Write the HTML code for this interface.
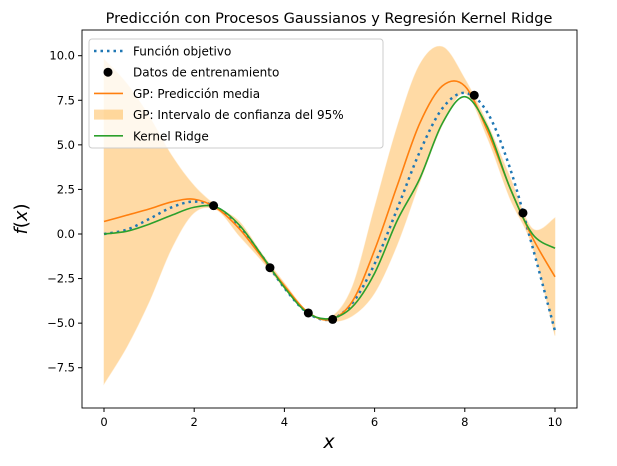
<!DOCTYPE html>
<html><head><meta charset="utf-8"><style>
body{margin:0;background:#fff;}
svg{font-family:"DejaVu Sans","Liberation Sans",sans-serif;}
</style></head><body>
<svg id="chart" width="617" height="461" viewBox="0 0 617 461">
<rect x="0" y="0" width="617" height="461" fill="#fff"/>
<g id="plot"></g>
</svg>
<script>
const xs=[0,0.5,1,1.5,2,2.5,3,3.5,4,4.5,5,5.5,6,6.5,7,7.5,8,8.5,9,9.5,10];
const objective=[0,0.240,0.841,1.496,1.819,1.496,0.423,-1.228,-3.027,-4.399,-4.795,-3.897,-1.676,1.399,4.599,7.035,7.915,6.817,3.709,-0.714,-5.440];
const gpMean=[0.7,1.05,1.4,1.8,1.95,1.45,0.3,-1.3,-2.9,-4.35,-4.8,-3.8,-0.9,2.7,6.2,8.3,8.3,5.8,2.6,-0.2,-2.4];
const gpStd=[9.1,7.4,5.2,2.6,0.75,0.1,0.4,0.2,0.15,0.05,0.1,0.8,2.4,3.3,3.3,2.2,0.4,0.4,0.6,0.5,3.3];
const krr=[0.0,0.15,0.55,1.05,1.5,1.5,0.5,-1.2,-3.0,-4.4,-4.75,-4.1,-2.2,0.75,3.1,6.2,7.7,6.0,2.6,0.0,-0.8];
const trainX=[2.43,3.68,4.53,5.07,8.21,9.29];
const trainY=[1.59,-1.89,-4.43,-4.79,7.78,1.18];
const xTicks=[0,2,4,6,8,10];
const yTicks=[-7.5,-5.0,-2.5,0.0,2.5,5.0,7.5,10.0];

const NS="http://www.w3.org/2000/svg";
const g=document.getElementById('plot');
const L=82,R=577,T=30,B=408;
const sx=v=>104+v*45.1;
const sy=v=>234-v*17.83;
function el(t,a,p){const e=document.createElementNS(NS,t);for(const k in a)e.setAttribute(k,a[k]);(p||g).appendChild(e);return e;}
function smooth(px,py){let d=`M${px[0]},${py[0]}`;for(let i=0;i<px.length-1;i++){const x0=px[Math.max(i-1,0)],y0=py[Math.max(i-1,0)],x1=px[i],y1=py[i],x2=px[i+1],y2=py[i+1],x3=px[Math.min(i+2,px.length-1)],y3=py[Math.min(i+2,px.length-1)];d+=` C${x1+(x2-x0)/6},${y1+(y2-y0)/6} ${x2-(x3-x1)/6},${y2-(y3-y1)/6} ${x2},${y2}`;}return d;}
const px=xs.map(sx);
const up=xs.map((x,i)=>sy(gpMean[i]+gpStd[i]));
const lo=xs.map((x,i)=>sy(gpMean[i]-gpStd[i]));
const rpx=px.slice().reverse(),rlo=lo.slice().reverse();
let band=el('path',{d:smooth(px,up)+' L'+smooth(rpx,rlo).slice(1)+' Z',fill:'#ffa420',opacity:0.4,stroke:'#ffa420','stroke-opacity':0.5});

let p1=el('path',{d:smooth(px,objective.map(sy)),fill:'none',stroke:'#1f77b4','stroke-width':2.5,'stroke-dasharray':'2.5,4'});

let p2=el('path',{d:smooth(px,gpMean.map(sy)),fill:'none',stroke:'#ff7f0e','stroke-width':1.6});

let p3=el('path',{d:smooth(px,krr.map(sy)),fill:'none',stroke:'#2ca02c','stroke-width':1.6});

trainX.forEach((x,i)=>{const c=el('circle',{cx:sx(x),cy:sy(trainY[i]),r:4.5,fill:'#000'});
});
el('rect',{x:L,y:T,width:R-L,height:B-T,fill:'none',stroke:'#000','stroke-width':0.9});
xTicks.forEach(v=>{el('line',{x1:sx(v),x2:sx(v),y1:B,y2:B+4,stroke:'#000'});
const t=el('text',{x:sx(v),y:B+18,'font-size':11.5,'text-anchor':'middle'});t.textContent=v;
});
yTicks.forEach(v=>{el('line',{x1:L-4,x2:L,y1:sy(v),y2:sy(v),stroke:'#000'});
const t=el('text',{x:L-7,y:sy(v)+4,'font-size':11.5,'text-anchor':'end'});t.textContent=v.toFixed(1).replace('-','−');
});
let tt=el('text',{x:329,y:23,'font-size':14.5,'text-anchor':'middle'});tt.textContent='Predicción con Procesos Gaussianos y Regresión Kernel Ridge';

let xl=el('text',{x:329,y:448,'font-size':19,'font-style':'italic','text-anchor':'middle'});xl.textContent='x';

let yl=el('text',{x:27,y:219,'font-size':18,'text-anchor':'middle',transform:'rotate(-90 27 219)'});yl.innerHTML='<tspan font-style="italic">f</tspan>(<tspan font-style="italic">x</tspan>)';

const lg=el('g',{});
el('rect',{x:89,y:39,width:294,height:109,rx:3,fill:'#fff','fill-opacity':0.8,stroke:'#ccc'},lg);
const names=['Función objetivo','Datos de entrenamiento','GP: Predicción media','GP: Intervalo de confianza del 95%','Kernel Ridge'];
names.forEach((n,i)=>{const y=51+i*21.2;
if(i==0)el('line',{x1:94,x2:123,y1:y,y2:y,stroke:'#1f77b4','stroke-width':2.5,'stroke-dasharray':'2.5,4'},lg);
if(i==1)el('circle',{cx:108,cy:y,r:4.5,fill:'#000'},lg);
if(i==2)el('line',{x1:94,x2:123,y1:y,y2:y,stroke:'#ff7f0e','stroke-width':1.6},lg);
if(i==3)el('rect',{x:94,y:y-5,width:29,height:10,fill:'#ffa420',opacity:0.4},lg);
if(i==4)el('line',{x1:94,x2:123,y1:y,y2:y,stroke:'#2ca02c','stroke-width':1.6},lg);
const t=el('text',{x:133,y:y+4.5,'font-size':12},lg);t.textContent=n;
});
</script>
</body></html>
